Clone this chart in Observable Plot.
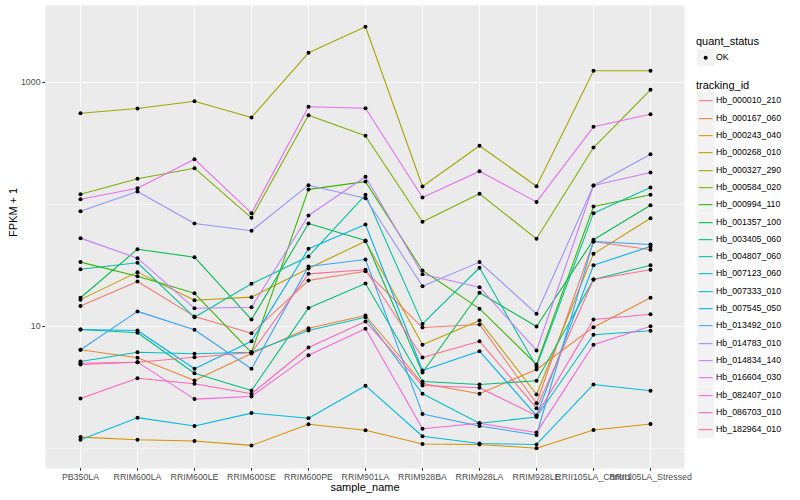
<!DOCTYPE html>
<html>
<head>
<meta charset="utf-8">
<script src="https://cdn.jsdelivr.net/npm/d3@7"></script>
<script src="https://cdn.jsdelivr.net/npm/@observablehq/plot@0.6"></script>
<style>
  html, body { margin: 0; padding: 0; background: white; }
  #wrap { position: relative; width: 800px; height: 500px; font-family: "Liberation Sans", Arial, sans-serif; }
  #legend { position: absolute; left: 0; top: 0; width: 800px; height: 500px; pointer-events: none; }
  .lg-title { position: absolute; left: 696px; font-size: 11px; color: black; line-height: 14px; white-space: nowrap; }
  .lg-key { position: absolute; left: 696.5px; width: 17.3px; height: 17.3px; background: #F2F2F2; }
  .lg-label { position: absolute; left: 716px; font-size: 8.8px; color: black; line-height: 17.3px; white-space: nowrap; }
</style>
</head>
<body>
<div id="wrap"><div id="chart"></div><div id="legend"></div></div>
<script>
const samples = ["PB350LA","RRIM600LA","RRIM600LE","RRIM600SE","RRIM600PE","RRIM901LA","RRIM928BA","RRIM928LA","RRIM928LE","RRII105LA_Control","RRII105LA_Stressed"];

const trackingIds = ["Hb_000010_210","Hb_000167_060","Hb_000243_040","Hb_000268_010","Hb_000327_290","Hb_000584_020","Hb_000994_110","Hb_001357_100","Hb_003405_060","Hb_004807_060","Hb_007123_060","Hb_007333_010","Hb_007545_050","Hb_013492_010","Hb_014783_010","Hb_014834_140","Hb_016604_030","Hb_082407_010","Hb_086703_010","Hb_182964_010"];

const colors = ["#F8766D","#EA8331","#D89000","#C09B00","#A3A500","#7CAE00","#39B600","#00BB4E","#00BF7D","#00C1A3","#00BFC4","#00BAE0","#00B0F6","#35A2FF","#9590FF","#C77CFF","#E76BF3","#FA62DB","#FF62BC","#FF6C91"];

// FPKM + 1 per sample (order of samples)
const Hb_000010_210 = [14.7, 23.4, 12.1, 8.81, 23.8, 28.4, 9.81, 10.4, 2.35, 49.8, 42.5];
const Hb_000167_060 = [6.44, 5.54, 3.61, 6.01, 9.68, 12.3, 3.41, 2.81, 4.44, 9.87, 17.2];
const Hb_000243_040 = [1.24, 1.18, 1.15, 1.06, 1.58, 1.41, 1.09, 1.08, 1.005, 1.42, 1.59];
const Hb_000268_010 = [16.6, 27.9, 16.4, 17.4, 29.9, 50, 7.08, 11.2, 2.77, 39.4, 77.2];
const Hb_000327_290 = [560, 612, 703, 517, 1751, 2863, 140.5, 303, 141, 1247, 1247];
const Hb_000584_020 = [121.4, 162.5, 198.5, 77.8, 540, 366, 72.1, 122.4, 52.3, 293, 871];
const Hb_000994_110 = [33.7, 25.8, 18.7, 6.12, 133, 154, 28.8, 14, 4.88, 96.3, 120];
const Hb_001357_100 = [17.2, 43, 37, 11.4, 69.8, 50.7, 4.2, 18.9, 10, 51.4, 98.7];
const Hb_003405_060 = [9.45, 8.88, 4.14, 2.99, 14.2, 22.5, 3.54, 3.35, 3.59, 24.3, 31.8];
const Hb_004807_060 = [29.5, 33.3, 11.9, 22.4, 37.5, 120, 10.5, 30.3, 4.7, 84.9, 138];
const Hb_007123_060 = [5.17, 6.16, 5.97, 6.16, 9.27, 11.9, 2.81, 1.61, 1.81, 8.55, 9.22];
const Hb_007333_010 = [1.18, 1.79, 1.53, 1.95, 1.77, 3.27, 1.26, 1.10, 1.08, 3.35, 2.97];
const Hb_007545_050 = [9.45, 9.27, 4.5, 7.58, 43.3, 68.6, 4.36, 6.28, 1.86, 31.8, 45.3];
const Hb_013492_010 = [6.44, 13.3, 9.4, 4.5, 31, 35.4, 1.92, 1.53, 1.29, 49.8, 47];
const Hb_014783_010 = [88.1, 128, 69.8, 60.9, 144, 112.6, 21.4, 33.7, 12.7, 143, 258];
const Hb_014834_140 = [53, 36.3, 14.1, 14.4, 81.3, 169, 26.8, 21, 6.36, 143, 183];
const Hb_016604_030 = [110.5, 136, 235, 84.9, 632, 615, 114, 187.5, 105, 433, 550];
const Hb_082407_010 = [5, 5.1, 2.54, 2.67, 5.82, 9.58, 1.45, 1.61, 1.35, 7.08, 10.06];
const Hb_086703_010 = [2.57, 3.77, 3.39, 2.81, 6.73, 11, 3.28, 3.15, 1.86, 11.4, 12.6];
const Hb_182964_010 = [4.88, 5.1, 5.6, 6.12, 27, 29.2, 5.57, 7.58, 2.14, 24.3, 29.2];

const seriesValues = [Hb_000010_210, Hb_000167_060, Hb_000243_040, Hb_000268_010, Hb_000327_290, Hb_000584_020, Hb_000994_110, Hb_001357_100, Hb_003405_060, Hb_004807_060, Hb_007123_060, Hb_007333_010, Hb_007545_050, Hb_013492_010, Hb_014783_010, Hb_014834_140, Hb_016604_030, Hb_082407_010, Hb_086703_010, Hb_182964_010];

const yMajor = [10, 1000];
const yMinor = [1, 100];
const yTickLabels = ["10", "1000"];

const table = trackingIds.flatMap((id, i) =>
  seriesValues[i].map((v, j) => ({id, sample: samples[j], value: v, status: "OK"})));

const font = "'Liberation Sans', Arial, sans-serif";

const chart = Plot.plot({
  width: 800,
  height: 500,
  marginLeft: 45,
  marginRight: 116,
  marginTop: 5,
  marginBottom: 32,
  style: {fontFamily: font, background: "white", overflow: "visible"},
  x: {type: "point", domain: samples, padding: 0.6, label: null},
  y: {type: "log", domain: [0.6855, 4276], label: null},
  color: {domain: trackingIds, range: colors},
  marks: [
    Plot.frame({fill: "#EBEBEB", stroke: "none"}),
    Plot.ruleY(yMinor, {y: d => d, stroke: "white", strokeWidth: 0.53}),
    Plot.ruleY(yMajor, {y: d => d, stroke: "white", strokeWidth: 1.07}),
    Plot.ruleX(samples, {x: d => d, stroke: "white", strokeWidth: 1.07}),
    Plot.line(table, {x: "sample", y: "value", z: "id", stroke: "id", strokeWidth: 1.07}),
    Plot.dot(table, {x: "sample", y: "value", r: 2, fill: "black", stroke: "none"}),
    Plot.axisX({tickSize: 2.75, tickPadding: 2.2, fontSize: 8.8, stroke: "#333333", fill: "#4D4D4D", label: null}),
    Plot.axisY({ticks: yMajor, tickFormat: (d) => yTickLabels[yMajor.indexOf(d)], tickSize: 2.75, tickPadding: 2.2, fontSize: 8.8, stroke: "#333333", fill: "#4D4D4D", label: null}),
    Plot.text(["FPKM + 1"], {text: d => d, frameAnchor: "left", dx: -32, rotate: -90, fontSize: 11, fill: "black"}),
    Plot.text(["sample_name"], {text: d => d, frameAnchor: "bottom", dy: 22.5, fontSize: 11, fill: "black"})
  ]
});
document.getElementById("chart").appendChild(chart);

// Legend (ggplot-style, right side)
const legend = document.getElementById("legend");
function add(cls, top, html) {
  const d = document.createElement("div");
  d.className = cls;
  d.style.top = top + "px";
  d.innerHTML = html;
  legend.appendChild(d);
  return d;
}
add("lg-title", 34, "quant_status");
const okTop = 48.7;
add("lg-key", okTop, `<svg width="17.3" height="17.3"><circle cx="8.65" cy="8.65" r="2" fill="black"/></svg>`);
add("lg-label", okTop, "OK");
add("lg-title", 78, "tracking_id");
trackingIds.forEach((id, i) => {
  const top = 92.4 + i * 17.3;
  add("lg-key", top, `<svg width="17.3" height="17.3"><line x1="1.7" x2="15.6" y1="8.65" y2="8.65" stroke="${colors[i]}" stroke-width="1.07"/></svg>`);
  add("lg-label", top, id);
});
</script>
</body>
</html>
